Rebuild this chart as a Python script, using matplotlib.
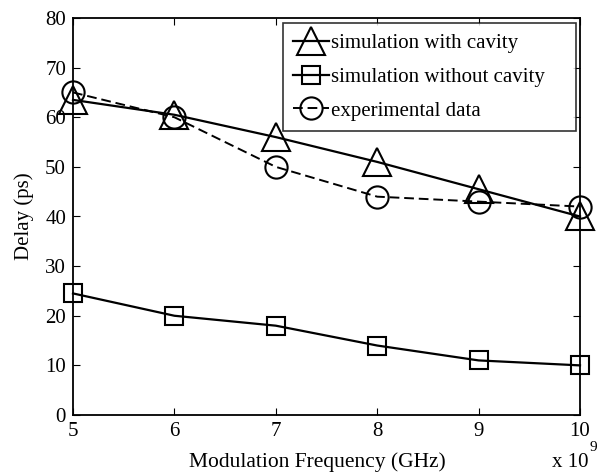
import matplotlib
matplotlib.use("Agg")
import matplotlib.pyplot as plt
import numpy as np

plt.rcParams['font.family'] = ['Liberation Serif', 'DejaVu Serif']

# modulation frequency (Hz) and delay (ps)
freq = [5e9, 6e9, 7e9, 8e9, 9e9, 10e9]
with_cavity = [63.5, 60.5, 56, 51, 45.5, 40]
without_cavity = [24.5, 20, 18, 14, 11, 10]
experimental = [65, 60, 50, 44, 43, 42]

x = np.array(freq) / 1e9

fig = plt.figure(figsize=(6.0, 4.73), dpi=100)
ax = fig.add_axes([73/600, 58/473, 507/600, 397/473])

ax.plot(x, with_cavity, "k-", marker="^", ms=20, mfc="none", mew=1.5, lw=1.6,
        label="simulation with cavity", clip_on=False)
ax.plot(x, without_cavity, "k-", marker="s", ms=13, mfc="none", mew=1.5, lw=1.6,
        label="simulation without cavity", clip_on=False)
ax.plot(x, experimental, "k--", marker="o", ms=16, mfc="none", mew=1.5, lw=1.4,
        dashes=(5, 2.5), label="experimental data", clip_on=False)

ax.set_xlim(5, 10)
ax.set_ylim(0, 80)
ax.set_xticks([5, 6, 7, 8, 9, 10])
ax.set_yticks(range(0, 81, 10))
ax.tick_params(direction="in", top=True, right=True, labelsize=15, length=5, pad=5)
for s in ax.spines.values():
    s.set_linewidth(1.3)

ax.set_xlabel("Modulation Frequency (GHz)", fontsize=15.5, labelpad=8)
ax.xaxis.label.set_x(0.482)
ax.set_ylabel("Delay (ps)", fontsize=15, labelpad=8)
fig.text(552/600, 1 - 467/473, "x 10", fontsize=15, ha="left", va="baseline")
fig.text(589/600, 1 - 451/473, "9", fontsize=11, ha="left", va="baseline")

leg = ax.legend(loc="upper left", fontsize=15, handlelength=1.7, handletextpad=0.1,
                borderpad=0.5, labelspacing=0.68, fancybox=False, mode="expand",
                bbox_to_anchor=(0.414, 0.5, 0.578, 0.487), borderaxespad=0)
leg.get_frame().set_edgecolor("k")
leg.get_frame().set_linewidth(1.2)

fig.savefig("out.png", dpi=100)
